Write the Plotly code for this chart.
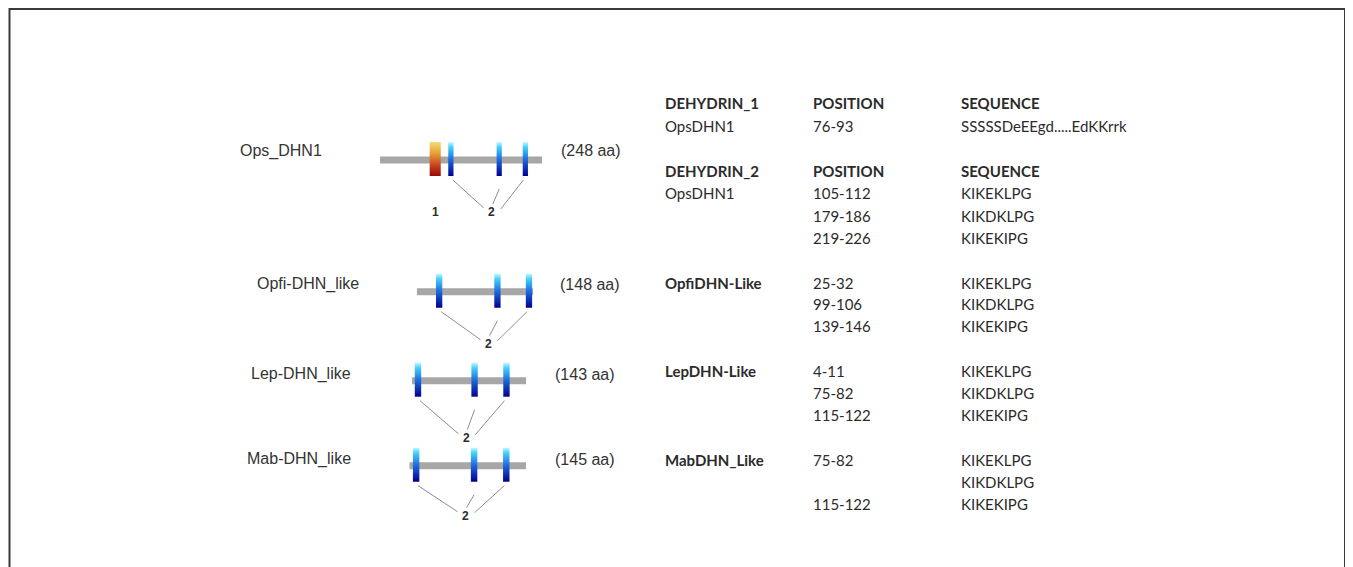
import plotly.graph_objects as go

W, H = 1353, 567
OFF = 8  # page body margin; figure drawn in page-pixel coordinates

# ---------------- data ----------------
proteins = ["Ops_DHN1", "Opfi-DHN_like", "Lep-DHN_like", "Mab-DHN_like"]
lengths_aa = [248, 148, 143, 145]
length_labels = ["(248 aa)", "(148 aa)", "(143 aa)", "(145 aa)"]
dehydrin1_domains = [[(76, 93)], [], [], []]
dehydrin2_segments = [
    [(105, 112), (179, 186), (219, 226)],
    [(25, 32), (99, 106), (139, 146)],
    [(4, 11), (75, 82), (115, 122)],
    [(5, 12), (77, 84), (117, 124)],
]

tbl_col1 = ["DEHYDRIN_1", "OpsDHN1", "DEHYDRIN_2", "OpsDHN1", "", "",
            "OpfiDHN-Like", "", "", "LepDHN-Like", "", "", "MabDHN_Like", "", ""]
tbl_col2 = ["POSITION", "76-93", "POSITION", "105-112", "179-186", "219-226",
            "25-32", "99-106", "139-146", "4-11", "75-82", "115-122", "75-82", "", "115-122"]
tbl_col3 = ["SEQUENCE", "SSSSSDeEEgd.....EdKKrrk", "SEQUENCE", "KIKEKLPG", "KIKDKLPG", "KIKEKIPG",
            "KIKEKLPG", "KIKDKLPG", "KIKEKIPG", "KIKEKLPG", "KIKDKLPG", "KIKEKIPG",
            "KIKEKLPG", "KIKDKLPG", "KIKEKIPG"]
tbl_header = [True, False, True, False, False, False, False, False, False,
              False, False, False, False, False, False]
tbl_bold_name = [True, False, True, False, False, False, True, False, False,
                 True, False, False, True, False, False]

# ---------------- layout constants ----------------
row_line_px = [(380, 542), (416.7, 533.3), (412, 526), (409.3, 526)]
row_y = [160, 291.7, 380.7, 465.7]
label_dy = [52, 52, 57, 50]
name_pos = [(280.5, 151), (307.5, 284), (300.8, 374), (299, 459)]
len_pos = [(591, 150), (590, 284), (585, 374), (585, 459)]
tbl_x = [662.7, 810.7, 959.3]
tbl_y = [103.3, 126, 171, 193.3, 215.5, 237.7, 282.7, 304.3, 325.7,
         371, 393.3, 415.3, 460, 481.7, 504.3]

SEG_UP, SEG_DOWN = 18, 16

K_SCALE = [[0, "#c8f6ff"], [0.15, "#45d2fb"], [0.5, "#1f6fe0"], [1, "#00008c"]]
D1_SCALE = [[0, "#f6dc70"], [0.3, "#eaa53c"], [0.7, "#c2421c"], [1, "#980808"]]
GREY = "#a7a7a7"
CONN = "#8e8e8e"
TXT = "#2b2b2b"
NAME_FONT = dict(family="Liberation Sans Narrow, Arial Narrow, Liberation Sans", size=16, color="#333333")
NOBG = "rgba(0,0,0,0)"

FW, FH = W - OFF, H - OFF

fig = go.Figure()
layout_axes = {}
annotations = []

for i, name in enumerate(proteins):
    k = i + 2
    ax, ay = "x%d" % k, "y%d" % k
    x0p, x1p = row_line_px[i]
    L = lengths_aa[i]
    ppr = (x1p - x0p) / L
    layout_axes["xaxis%d" % k] = dict(domain=[(x0p - OFF) / FW, (x1p - OFF) / FW], range=[0, L],
                                      anchor=ay, visible=False, fixedrange=True)
    layout_axes["yaxis%d" % k] = dict(domain=[0, 1], range=[H, OFF], anchor=ax,
                                      visible=False, fixedrange=True)
    yc = row_y[i]
    top, bot = yc - SEG_UP, yc + SEG_DOWN

    # protein backbone
    fig.add_trace(go.Scatter(x=[0, L], y=[yc, yc], xaxis=ax, yaxis=ay, mode="lines",
                             line=dict(color=GREY, width=7), hoverinfo="skip", showlegend=False))

    lab_y = yc + label_dy[i]
    # dehydrin_1 domain
    for (s, e) in dehydrin1_domains[i]:
        fig.add_trace(go.Scatter(x=[s, e, e, s, s], y=[top, top, bot, bot, top], xaxis=ax, yaxis=ay,
                                 mode="lines", fill="toself", line=dict(width=0),
                                 fillgradient=dict(type="vertical", colorscale=D1_SCALE, start=top, stop=bot),
                                 hoverinfo="skip", showlegend=False))
        annotations.append(dict(x=(s + e) / 2, y=lab_y, xref=ax, yref=ay, text="<b>1</b>",
                                showarrow=False, font=dict(family="Liberation Sans", size=12, color=TXT)))

    # dehydrin_2 (K) segments
    segs = dehydrin2_segments[i]
    centers = [(s + e) / 2 for (s, e) in segs]
    lab_x = sum(centers) / len(centers)
    for (s, e) in segs:
        fig.add_trace(go.Scatter(x=[s - 0.5, e + 0.5, e + 0.5, s - 0.5, s - 0.5],
                                 y=[top, top, bot, bot, top], xaxis=ax, yaxis=ay,
                                 mode="lines", fill="toself", line=dict(width=0),
                                 fillgradient=dict(type="vertical", colorscale=K_SCALE, start=top, stop=bot),
                                 hoverinfo="skip", showlegend=False))
    # connectors to the "2" label
    n = len(segs)
    for j, c in enumerate(centers):
        if j == 0:
            xs = [c + 2 / ppr, lab_x - 8 / ppr]
            ys = [bot + 4, lab_y - 4]
        elif j == n - 1:
            xs = [c - 2 / ppr, lab_x + 9 / ppr]
            ys = [bot + 4, lab_y - 3]
        else:
            xs = [c, lab_x + 1 / ppr]
            ys = [bot + 13, lab_y - 8]
        fig.add_trace(go.Scatter(x=xs, y=ys, xaxis=ax, yaxis=ay, mode="lines", cliponaxis=False,
                                 line=dict(color=CONN, width=1), hoverinfo="skip", showlegend=False))
    annotations.append(dict(x=lab_x, y=lab_y, xref=ax, yref=ay, text="<b>2</b>",
                            showarrow=False, font=dict(family="Liberation Sans", size=12, color=TXT)))

    # names and lengths
    annotations.append(dict(x=name_pos[i][0], y=name_pos[i][1], xref="x", yref="y", text=name,
                            showarrow=False, xanchor="center", yanchor="middle", font=NAME_FONT))
    annotations.append(dict(x=len_pos[i][0], y=len_pos[i][1], xref="x", yref="y", text=length_labels[i],
                            showarrow=False, xanchor="center", yanchor="middle", font=NAME_FONT))

# table text
for r in range(len(tbl_y)):
    cols = [tbl_col1[r], tbl_col2[r], tbl_col3[r]]
    for c in range(3):
        t = cols[c]
        if not t:
            continue
        bold = tbl_header[r] or (c == 0 and tbl_bold_name[r])
        annotations.append(dict(x=tbl_x[c], y=tbl_y[r], xref="x", yref="y",
                                text=("<b>%s</b>" % t) if bold else t,
                                showarrow=False, xanchor="left", yanchor="middle",
                                font=dict(family="Lato", size=15, color=TXT)))

fig.update_layout(
    width=FW, height=FH,
    margin=dict(l=0, r=0, t=0, b=0),
    paper_bgcolor="white", plot_bgcolor=NOBG,
    xaxis=dict(range=[OFF, W], domain=[0, 1], visible=False, fixedrange=True),
    yaxis=dict(range=[H, OFF], domain=[0, 1], visible=False, fixedrange=True),
    showlegend=False,
    annotations=annotations,
    shapes=[dict(type="rect", xref="x", yref="y", x0=9.5, y0=9, x1=1345, y1=H + 20,
                 line=dict(color="#3a3a3a", width=2), fillcolor=NOBG, layer="above")],
    **layout_axes,
)

fig.write_html("out.html")
